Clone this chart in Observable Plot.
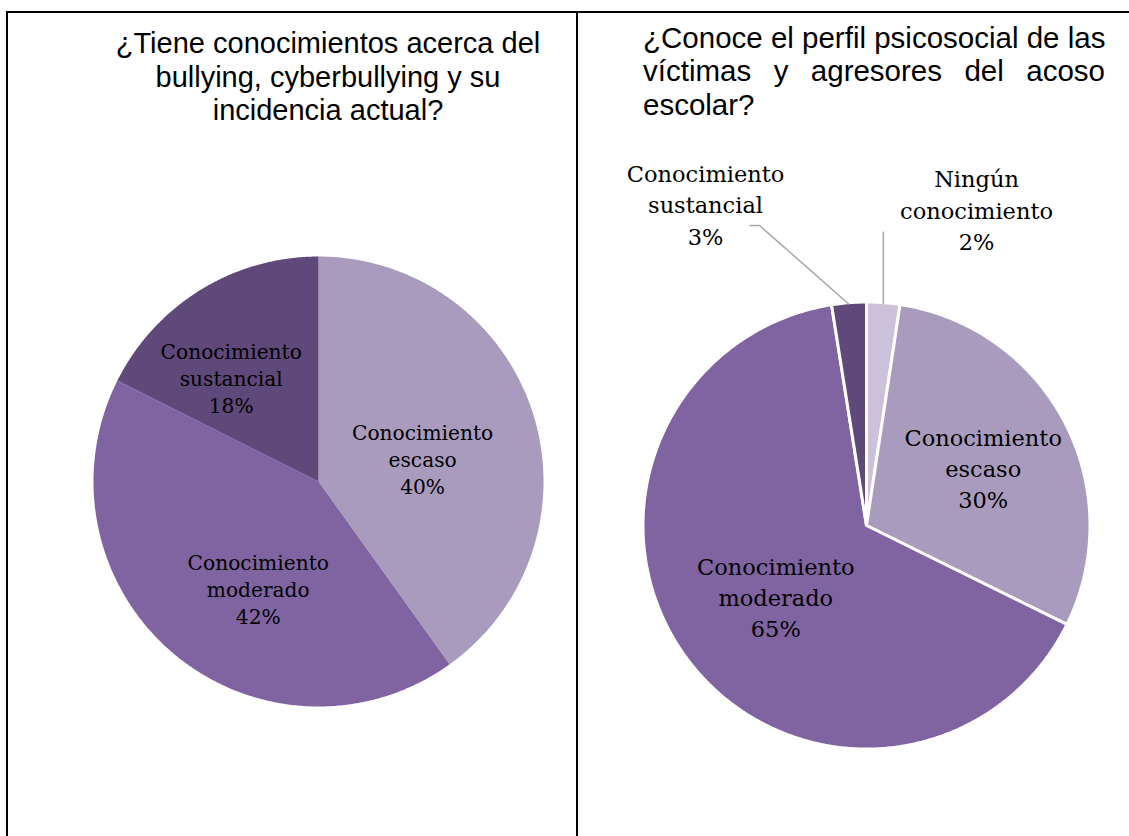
<!DOCTYPE html>
<html>
<head>
<meta charset="utf-8">
<script src="https://cdn.jsdelivr.net/npm/d3@7"></script>
<script src="https://cdn.jsdelivr.net/npm/@observablehq/plot@0.6"></script>
<style>
  html, body { margin: 0; padding: 0; background: #fff; }
  #page { position: relative; width: 1129px; height: 836px; overflow: hidden; background: #fff; }
  .rule { position: absolute; background: #000; }
  .title { position: absolute; font-family: "Liberation Sans", Arial, sans-serif; font-size: 29.5px; line-height: 33.3px; color: #000; }
  .just { text-align: justify; text-align-last: justify; white-space: nowrap; }
  .cell { position: absolute; }
</style>
</head>
<body>
<div id="page">
  <div class="rule" style="left:6px;top:11px;width:1123px;height:2px"></div>
  <div class="rule" style="left:6px;top:11px;width:2px;height:825px"></div>
  <div class="rule" style="left:576px;top:11px;width:2px;height:825px"></div>

  <div class="title" id="title-left" style="left:100px;top:27px;width:456px;text-align:center;font-size:29px;line-height:33.5px"></div>
  <div class="title" id="title-right" style="left:643px;top:21px;width:462px"></div>

  <div class="cell" id="left" style="left:9px;top:131px"></div>
  <div class="cell" id="right" style="left:580px;top:131px"></div>
</div>
<script>
// ---------- data ----------
const leftTitle = ["¿Tiene conocimientos acerca del", "bullying, cyberbullying y su", "incidencia actual?"];
const leftCategories = ["Conocimiento escaso", "Conocimiento moderado", "Conocimiento sustancial"];
const leftValues = [40.1, 42.3, 17.6];
const leftLabels = ["40%", "42%", "18%"];
const leftColors = ["#A99BBD", "#8064A2", "#5F497A"];

const rightTitle = ["¿Conoce el perfil psicosocial de las", "víctimas y agresores del acoso", "escolar?"];
const rightCategories = ["Ningún conocimiento", "Conocimiento escaso", "Conocimiento moderado", "Conocimiento sustancial"];
const rightValues = [2.4, 29.9, 65.2, 2.5];
const rightLabels = ["2%", "30%", "65%", "3%"];
const rightColors = ["#CCC1DA", "#A99BBD", "#8064A2", "#5F497A"];

// ---------- titles ----------
document.getElementById("title-left").innerHTML = leftTitle.join("<br>");
const rt = document.getElementById("title-right");
rightTitle.forEach((t, i) => {
  const d = document.createElement("div");
  d.textContent = t;
  if (i < rightTitle.length - 1) d.className = "just";
  rt.appendChild(d);
});

// ---------- pie builder ----------
function pie(opts) {
  const {categories, values, labels, colors, width, height, cx, cy, r,
         stroke, strokeWidth, fontSize, lineHeight, labelRadius, nudges, leaders} = opts;
  const total = d3.sum(values);
  const arcs = [];
  const labelRows = [];
  let acc = 0;
  values.forEach((v, i) => {
    const a0 = acc / total * 2 * Math.PI;
    const a1 = (acc + v) / total * 2 * Math.PI;
    const n = Math.max(2, Math.ceil((a1 - a0) / (Math.PI / 360)));
    arcs.push({slice: i, x: 0, y: 0, color: colors[i]});
    for (let k = 0; k <= n; k++) {
      const a = a0 + (a1 - a0) * k / n;
      arcs.push({slice: i, x: r * Math.sin(a), y: r * Math.cos(a), color: colors[i]});
    }
    const mid = (a0 + a1) / 2;
    const rr = r * labelRadius[i];
    const sp = categories[i].indexOf(" ");
    labelRows.push({
      x: rr * Math.sin(mid) + nudges[i][0],
      y: rr * Math.cos(mid) + nudges[i][1],
      mid,
      text: categories[i].slice(0, sp) + "\n" + categories[i].slice(sp + 1) + "\n" + labels[i]
    });
    acc += v;
  });
  const leaderRows = [];
  (leaders || []).forEach(([i, fn]) => {
    const L = labelRows[i];
    const rim = {x: r * Math.sin(L.mid), y: r * Math.cos(L.mid)};
    fn(rim, L).forEach(p => leaderRows.push({id: i, x: p[0], y: p[1]}));
  });
  return Plot.plot({
    width, height,
    margin: 0,
    style: {background: "transparent", overflow: "visible"},
    x: {domain: [-cx, width - cx], axis: null},
    y: {domain: [-(height - cy), cy], axis: null},
    color: {type: "identity"},
    marks: [
      Plot.line(arcs, {x: "x", y: "y", z: "slice", fill: "color", stroke: stroke, strokeWidth: strokeWidth,
                       strokeLinejoin: "miter", curve: "linear-closed"}),
      Plot.line(leaderRows, {x: "x", y: "y", z: "id", stroke: "#A6A6A6", strokeWidth: 1.5, strokeLinejoin: "miter", strokeLinecap: "butt"}),
      Plot.text(labelRows, {x: "x", y: "y", text: "text", fontSize, lineHeight,
                            fontFamily: "DejaVu Serif", fill: "#000"})
    ]
  });
}

document.getElementById("left").appendChild(pie({
  categories: leftCategories, values: leftValues, labels: leftLabels, colors: leftColors,
  width: 566, height: 700, cx: 309, cy: 350, r: 225,
  stroke: "none", strokeWidth: 0, fontSize: 20.2, lineHeight: 1.34,
  labelRadius: [0.5, 0.5, 0.5],
  nudges: [[-3, -11.4], [12.8, -21.5], [-28.2, 8.3]]
}));

document.getElementById("right").appendChild(pie({
  categories: rightCategories, values: rightValues, labels: rightLabels, colors: rightColors,
  width: 549, height: 700, cx: 286, cy: 394, r: 223.5,
  stroke: "#fff", strokeWidth: 3, fontSize: 22.5, lineHeight: 1.38,
  labelRadius: [1.44, 0.5, 0.5, 1.44],
  nudges: [[85.8, -4], [17.6, 7], [-0.7, -4.1], [-135.7, 1.1]],
  leaders: [
    [0, (rim, L) => [[rim.x, rim.y - 1.5], [rim.x, L.y - 23]]],
    [3, (rim, L) => [[rim.x, rim.y - 1.5], [L.x + 54, L.y - 22], [L.x + 44, L.y - 22]]]
  ]
}));
</script>
</body>
</html>
